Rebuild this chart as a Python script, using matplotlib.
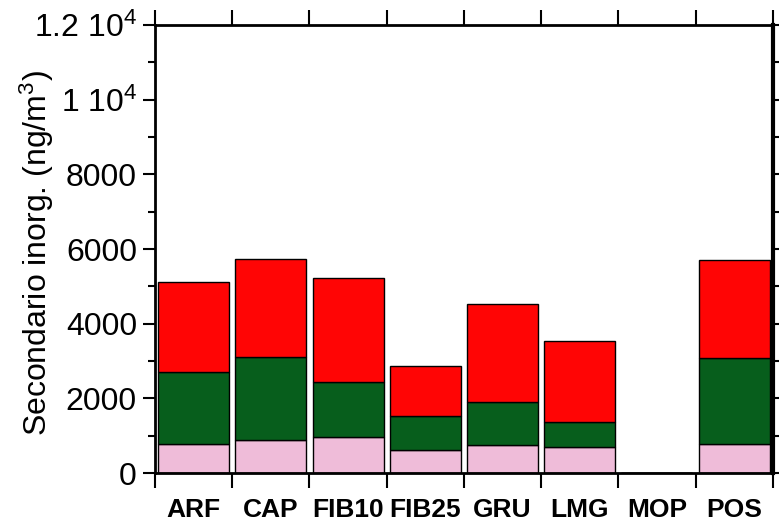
import matplotlib
matplotlib.use('Agg')

import numpy as np
import matplotlib.pyplot as plt
from matplotlib.ticker import FixedLocator, FuncFormatter

plt.rcParams['font.family'] = ['Liberation Sans', 'DejaVu Sans']
plt.rcParams['mathtext.fontset'] = 'custom'
plt.rcParams['mathtext.rm'] = 'Liberation Sans'
plt.rcParams['mathtext.it'] = 'Liberation Sans'

# ── Dati ──────────────────────────────────────────────────────────────────────
siti = ["ARF", "CAP", "FIB10", "FIB25", "GRU", "LMG", "MOP", "POS"]
rosa  = [777, 884, 964, 625, 759, 705, 0, 777]
verde = [1937, 2223, 1474, 902, 1143, 661, 0, 2312]
rosso = [2394, 2617, 2777, 1348, 2625, 2179, 0, 2616]

COL_ROSA  = "#efbcd9"
COL_VERDE = "#075e1c"
COL_ROSSO = "#ff0505"

x = np.arange(len(siti))
rosa_a  = np.array(rosa)
verde_a = np.array(verde)
rosso_a = np.array(rosso)

fig = plt.figure(figsize=(7.79, 5.24), dpi=100)
ax = fig.add_axes([0.199, 0.0973, 0.793, 0.855])

w = 0.92
kw = dict(width=w, edgecolor="black", linewidth=1.0)
ax.bar(x, rosa_a, color=COL_ROSA, **kw)
ax.bar(x, verde_a, bottom=rosa_a, color=COL_VERDE, **kw)
ax.bar(x, rosso_a, bottom=rosa_a + verde_a, color=COL_ROSSO, **kw)

ax.set_xlim(-0.5, len(siti) - 0.5)
ax.set_ylim(0, 12000)

# asse y
def fmt_y(v, pos):
    if v >= 10000:
        m = v / 10000
        return f"{m:g}" + r" 10$^4$"
    return f"{int(v)}"

ax.yaxis.set_major_locator(FixedLocator(np.arange(0, 12001, 2000)))
ax.yaxis.set_minor_locator(FixedLocator(np.arange(1000, 12000, 2000)))
ax.yaxis.set_major_formatter(FuncFormatter(fmt_y))
ax.tick_params(axis="y", which="major", direction="out", length=9, width=1.5,
               labelsize=23, right=True, pad=4)
ax.tick_params(axis="y", which="minor", direction="out", length=5, width=1.5,
               right=True)

# asse x: tacche ai confini, etichette al centro
ax.xaxis.set_major_locator(FixedLocator(np.arange(-0.5, len(siti), 1.0)))
ax.xaxis.set_major_formatter(FuncFormatter(lambda v, p: ""))
ax.xaxis.set_minor_locator(FixedLocator(x))
ax.set_xticklabels(siti, minor=True, fontsize=19, fontweight="bold")
ax.tick_params(axis="x", which="major", direction="out", length=11, width=1.5,
               top=True)
ax.tick_params(axis="x", which="minor", length=0, pad=18, top=False)

ax.set_ylabel("Secondario inorg. (ng/m$^3$)", fontsize=23)
ax.yaxis.set_label_coords(-0.161, 0.49)

for s in ["left", "top", "bottom"]:
    ax.spines[s].set_linewidth(2.0)
ax.spines["right"].set_linewidth(3.0)

fig.savefig("out.png", dpi=100)
